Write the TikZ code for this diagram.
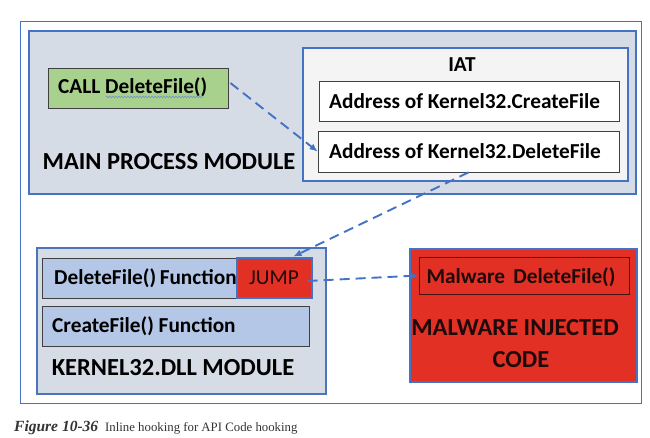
\documentclass[tikz,border=0pt]{standalone}
\usepackage{fontspec}
\setmainfont{Carlito}
\newfontfamily\capfont{Liberation Serif}
\usetikzlibrary{arrows.meta,calc,decorations.pathmorphing}
\definecolor{frameblue}{HTML}{4472C4}
\definecolor{modfill}{HTML}{D6DCE5}
\definecolor{iatfill}{HTML}{F4F4F4}
\definecolor{greenfill}{HTML}{A9D18E}
\definecolor{rowblue}{HTML}{B4C7E7}
\definecolor{malred}{HTML}{E23124}
\definecolor{darkedge}{HTML}{404040}
\definecolor{redtext}{HTML}{1E0A0A}
\definecolor{captext}{HTML}{333333}
\tikzset{
  box/.style={draw=darkedge, line width=0.8pt, inner sep=0pt, anchor=center},
  module/.style={draw=frameblue, line width=1.4pt, fill=modfill, inner sep=0pt},
  lbl/.style={font=\fontsize{21.3}{23}\selectfont\bfseries, inner sep=0pt, text=black},
  biglbl/.style={font=\fontsize{24.5}{27}\selectfont\bfseries, inner sep=0pt, text=black},
  hook/.style={draw=frameblue, line width=1.9pt, dash pattern=on 10pt off 6pt,
     -{Latex[length=8pt,width=7pt]}}
}
\begin{document}
\begin{tikzpicture}[x=1pt,y=-1pt]
\useasboundingbox (0,0) rectangle (650,438);
% outer frame
\node[draw=frameblue, line width=0.9pt, minimum width=621pt, minimum height=382pt, inner sep=0pt] (outer) at (330.5,212) {};
% main process module
\node[module, minimum width=607pt, minimum height=163pt] (main) at (332.5,112.5) {};
\node[draw=frameblue, line width=1.2pt, fill=iatfill, minimum width=325pt, minimum height=133pt, inner sep=0pt] (iat) at (465.5,114.5) {};
\node[lbl] (iatlbl) at (462,65) {IAT};
\node[box, fill=white, minimum width=300pt, minimum height=40pt] (rowc) at (469,101) {};
\node[lbl, anchor=west] (rowctxt) at (329,101) {Address of Kernel32.CreateFile};
\node[box, fill=white, minimum width=301pt, minimum height=41pt] (rowd) at (468.5,151.5) {};
\node[lbl, anchor=west] (rowdtxt) at (329,151.5) {Address of Kernel32.DeleteFile};
\node[box, fill=greenfill, minimum width=180pt, minimum height=40pt] (call) at (138,88) {};
\node[lbl, anchor=west] (calltxt) at (58,87) {CALL DeleteFile()};
\coordinate (sqa) at (106,97);
\coordinate (sqb) at (203,97);
\draw[frameblue!80, line width=0.5pt, decorate, decoration={snake, amplitude=0.9pt, segment length=3pt}] (sqa) -- (sqb);
\node[biglbl] (mainlbl) at (169,162) {MAIN PROCESS MODULE};
% kernel32 module
\node[module, draw=frameblue!85!gray, minimum width=289pt, minimum height=146pt] (kern) at (181.5,321) {};
\node[box, fill=rowblue, minimum width=195pt, minimum height=40pt] (delf) at (139.5,278) {};
\node[lbl, anchor=west] (delftxt) at (54,278) {DeleteFile()\,Function};
\node[draw=frameblue, line width=1.2pt, fill=malred, minimum width=75pt, minimum height=40pt, inner sep=0pt] (jump) at (274.5,278) {};
\node[font=\fontsize{21.3}{23}\selectfont, text=redtext, inner sep=0pt] (jumptxt) at (274,278) {JUMP};
\node[box, fill=rowblue, minimum width=267pt, minimum height=40pt] (creaf) at (175.5,326) {};
\node[lbl, anchor=west] (creaftxt) at (52,326) {CreateFile() Function};
\node[biglbl] (kernlbl) at (173,368) {KERNEL32.DLL MODULE};
% malware
\node[draw=frameblue, line width=1.2pt, fill=malred, minimum width=227pt, minimum height=133pt, inner sep=0pt] (mal) at (523.5,315.5) {};
\node[draw=redtext!80!malred, line width=0.8pt, minimum width=210pt, minimum height=37pt, inner sep=0pt] (malin) at (524,275.5) {};
\node[lbl, text=redtext] (malintxt) at (521,277) {Malware\ \,DeleteFile()};
\node[biglbl, text=redtext] (mallbl1) at (515,328) {MALWARE INJECTED};
\node[biglbl, text=redtext] (mallbl2) at (521,360) {CODE};
% connectors
\draw[hook] ($(call.east)+(2,-5)$) -- (rowd.west);
\draw[hook] (rowd.south) -- ($(jump.north)+(19,-1)$);
\draw[hook] ($(jump.east)+(-5,3)$) -- (malin.west);
% caption
\node[anchor=west, inner sep=0pt, text=captext] (cap) at (14,428) {\capfont{\fontsize{15.5}{16}\selectfont\bfseries\itshape Figure 10-36}\hspace{7pt}{\fontsize{12.8}{14}\selectfont Inline hooking for API Code hooking}};
\end{tikzpicture}
\end{document}
